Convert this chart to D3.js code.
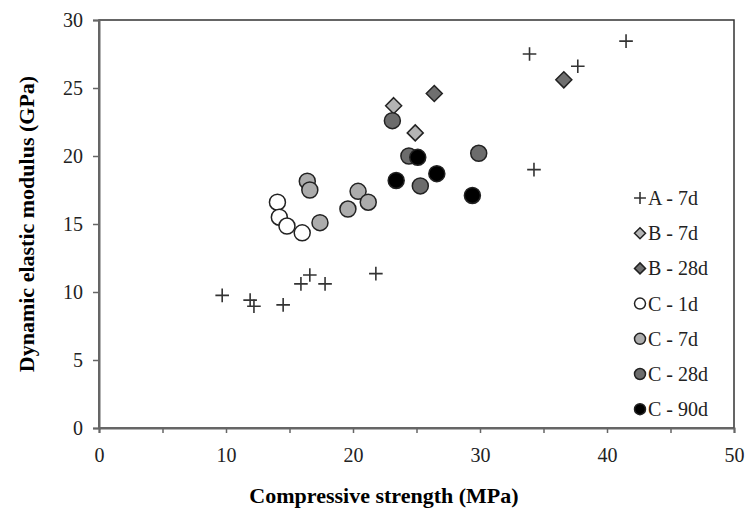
<!DOCTYPE html>
<html>
<head>
<meta charset="utf-8">
<script src="https://cdn.jsdelivr.net/npm/d3@7"></script>
<style>
  body { margin: 0; background: #fff; }
  text { font-family: "Liberation Serif", "Times New Roman", serif; }
</style>
</head>
<body>
<script>
var settings = {
  width: 748,
  height: 511,
  left: 99,
  right: 734,
  top: 20,
  bottom: 428
}

// data: [compressive strength MPa, dynamic modulus GPa]
var seriesNames = ['A - 7d', 'B - 7d', 'B - 28d', 'C - 1d', 'C - 7d', 'C - 28d', 'C - 90d'];
var a7 = [[9.7, 9.75], [11.9, 9.4], [12.2, 8.95], [14.5, 9.05], [15.9, 10.6], [16.6, 11.25],
  [17.8, 10.6], [21.8, 11.35], [33.9, 27.5], [37.7, 26.6], [41.5, 28.45], [34.25, 19.0]];
var b7 = [[23.2, 23.7], [24.9, 21.7]];
var b28 = [[26.4, 24.6], [36.6, 25.6]];
var c1 = [[14.05, 16.6], [14.2, 15.5], [14.8, 14.85], [16.0, 14.35]];
var c7 = [[16.4, 18.15], [16.6, 17.5], [17.4, 15.1], [19.6, 16.1], [20.4, 17.4], [21.2, 16.6]];
var c28 = [[23.1, 22.6], [24.4, 20.0], [25.3, 17.8], [29.9, 20.2]];
var c90 = [[23.4, 18.2], [25.1, 19.9], [26.6, 18.7], [29.4, 17.1]];
var xTicks = [0, 10, 20, 30, 40, 50];
var yTicks = [0, 5, 10, 15, 20, 25, 30];

var series = [
  { name: seriesNames[0], data: a7, shape: 'plus', fill: 'none' },
  { name: seriesNames[1], data: b7, shape: 'diamond', fill: '#b4b4b4' },
  { name: seriesNames[2], data: b28, shape: 'diamond', fill: '#6f6f6f' },
  { name: seriesNames[3], data: c1, shape: 'circle', fill: '#ffffff' },
  { name: seriesNames[4], data: c7, shape: 'circle', fill: '#acacac' },
  { name: seriesNames[5], data: c28, shape: 'circle', fill: '#6c6c6c' },
  { name: seriesNames[6], data: c90, shape: 'circle', fill: '#000000' }
];

var x = d3.scaleLinear().domain([0, 50]).range([settings.left, settings.right]);
var y = d3.scaleLinear().domain([0, 30]).range([settings.bottom, settings.top]);

var svg = d3.select('body').append('svg')
  .attr('width', settings.width)
  .attr('height', settings.height);

// plot frame
svg.append('rect')
  .attr('x', settings.left)
  .attr('y', settings.top)
  .attr('width', settings.right - settings.left)
  .attr('height', settings.bottom - settings.top)
  .style('fill', 'none')
  .style('stroke', '#333')
  .style('stroke-width', 1.5);

var xAxis = svg.append('g')
  .attr('transform', 'translate(0,' + settings.bottom + ')')
  .call(d3.axisBottom(x).tickValues(d3.range(0, 51, 5)).tickSize(5)
    .tickFormat(function(d){ return xTicks.indexOf(d) >= 0 ? d : ''; }).tickPadding(15));

var yAxis = svg.append('g')
  .attr('transform', 'translate(' + settings.left + ',0)')
  .call(d3.axisLeft(y).tickValues(yTicks).tickSize(6).tickPadding(10));

[xAxis, yAxis].forEach(function(g){
  g.select('.domain').style('stroke', '#666').style('stroke-width', 2);
  g.selectAll('.tick line').style('stroke', '#666').style('stroke-width', 1.5);
  g.selectAll('.tick text')
    .style('font-family', '"Liberation Serif", serif')
    .style('font-size', '20px')
    .style('fill', '#222');
});

var drawMarker = function(sel, s, size){
  if(s.shape === 'circle'){
    sel.append('circle').attr('r', size)
      .style('fill', s.fill).style('stroke', '#222').style('stroke-width', 1.5);
  } else if(s.shape === 'diamond'){
    sel.append('path')
      .attr('d', 'M0,' + (-size) + 'L' + size + ',0L0,' + size + 'L' + (-size) + ',0Z')
      .style('fill', s.fill).style('stroke', '#222').style('stroke-width', 1.5);
  } else {
    var h = size * 0.85;
    sel.append('path')
      .attr('d', 'M' + (-h) + ',0H' + h + 'M0,' + (-h) + 'V' + h)
      .style('fill', 'none').style('stroke', '#333').style('stroke-width', 1.6);
  }
};

series.forEach(function(s){
  svg.append('g').selectAll('g').data(s.data)
    .enter().append('g')
      .attr('transform', function(d){ return 'translate(' + x(d[0]) + ',' + y(d[1]) + ')'; })
      .each(function(){ drawMarker(d3.select(this), s, 8); });
});

// legend
var legend = svg.append('g').attr('transform', 'translate(640,198)');
series.forEach(function(s, i){
  var row = legend.append('g').attr('transform', 'translate(0,' + (i * 35.2) + ')');
  drawMarker(row, s, s.shape === 'plus' ? 7 : 5.5);
  row.append('text')
    .attr('x', 8)
    .attr('y', 7)
    .style('font-size', '20px')
    .style('fill', '#222')
    .text(s.name);
});

svg.append('text')
  .attr('x', 384)
  .attr('y', 503)
  .attr('text-anchor', 'middle')
  .style('font-size', '22px')
  .style('font-weight', 'bold')
  .text('Compressive strength (MPa)');

svg.append('text')
  .attr('transform', 'translate(34,224) rotate(-90)')
  .attr('text-anchor', 'middle')
  .style('font-size', '22px')
  .style('font-weight', 'bold')
  .text('Dynamic elastic modulus (GPa)');
</script>
</body>
</html>
